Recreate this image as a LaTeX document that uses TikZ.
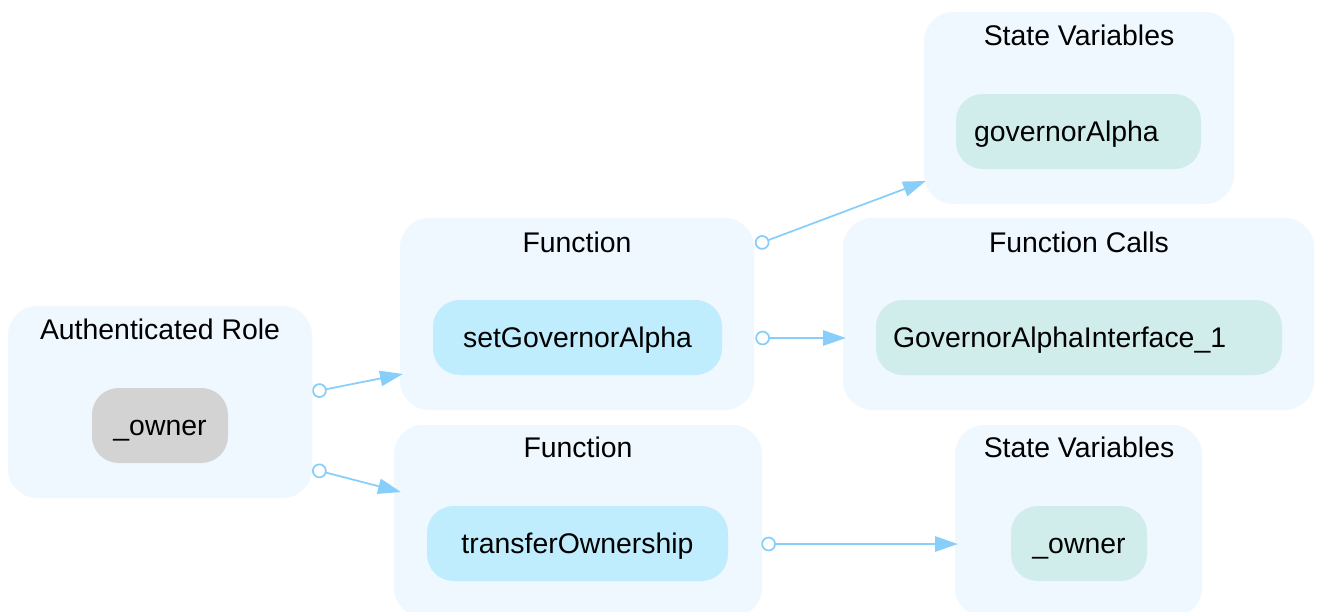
\documentclass[tikz,border=0pt]{standalone}
\usepackage{fontspec}
\setmainfont{Liberation Sans}
\usetikzlibrary{arrows.meta,calc}
\definecolor{clusterfill}{HTML}{EFF7FF}
\definecolor{fnfill}{HTML}{C0EDFD}
\definecolor{varfill}{HTML}{D0EDEC}
\definecolor{rolefill}{HTML}{D3D3D3}
\definecolor{edgecol}{HTML}{87CEFA}
\tikzset{
  cluster/.style={fill=clusterfill, draw=none, rounded corners=22pt, minimum height=144pt, inner sep=0pt},
  title/.style={font=\fontsize{21.3}{25}\selectfont, inner sep=0pt, text height=15.3pt, text depth=0pt},
  item/.style={draw=none, rounded corners=20pt, minimum height=56.25pt, inner sep=0pt, font=\fontsize{21.3}{25}\selectfont, text height=15.3pt, text depth=0pt},
  fnitem/.style={item, fill=fnfill},
  varitem/.style={item, fill=varfill},
  roleitem/.style={item, fill=rolefill},
  edge/.style={draw=edgecol, line width=1.3pt, {Circle[open,length=11pt,width=11pt,fill=white]}-{Triangle[length=17pt,width=11.5pt]}}
}
\begin{document}
\begin{tikzpicture}[x=0.75pt,y=-0.75pt]
\clip (0,0) rectangle (1318,611);
\fill[white] (0,0) rectangle (1318,611);
% clusters
\node[cluster, minimum width=228pt] (auth) at (160,402) {};
\node[cluster, minimum width=265.5pt] (fn1) at (577,314) {};
\node[cluster, minimum width=276pt] (fn2) at (578,521) {};
\node[cluster, minimum width=232.5pt] (sv1) at (1079,108) {};
\node[cluster, minimum width=353.25pt] (fc) at (1078.5,314) {};
\node[cluster, minimum width=185.25pt] (sv2) at (1078.5,521) {};
% titles
\node[title] (tauth) at (160,329) {Authenticated Role};
\node[title] (tfn1) at (577,242) {Function};
\node[title] (tfn2) at (578,447) {Function};
\node[title] (tsv1) at (1079,35) {State Variables};
\node[title] (tfc) at (1079,242) {Function Calls};
\node[title] (tsv2) at (1079,447) {State Variables};
% items
\node[roleitem, minimum width=102pt] (owner1) at (160,425.5) {\_owner};
\node[fnitem, minimum width=216.75pt] (setga) at (577.5,337.5) {setGovernorAlpha};
\node[fnitem, minimum width=225.75pt] (transfer) at (577.5,543.5) {transferOwnership};
\node[varitem, text width=156.75pt, inner xsep=13.5pt, align=left] (gova) at (1078.5,131.5) {governorAlpha};
\node[varitem, text width=279pt, inner xsep=12.75pt, align=left] (gai) at (1079,337.5) {GovernorAlphaInterface\_1};
\node[varitem, minimum width=102pt] (owner2) at (1079,543.5) {\_owner};
% edges
\draw[edge] ($(auth.east)+(0,-10)$) -- ($(fn1.west)+(3,60)$);
\draw[edge] ($(auth.east)+(0,67)$) -- ($(fn2.west)+(7,-29)$);
\draw[edge] ($(fn1.east)+(1,-69)$) -- ($(sv1.west)+(2,73)$);
\draw[edge] ($(fn1.east)+(1,24)$) -- ($(fc.west)+(3,24)$);
\draw[edge] ($(fn2.east)+(-1,23)$) -- ($(sv2.west)+(3,23)$);
\end{tikzpicture}
\end{document}
